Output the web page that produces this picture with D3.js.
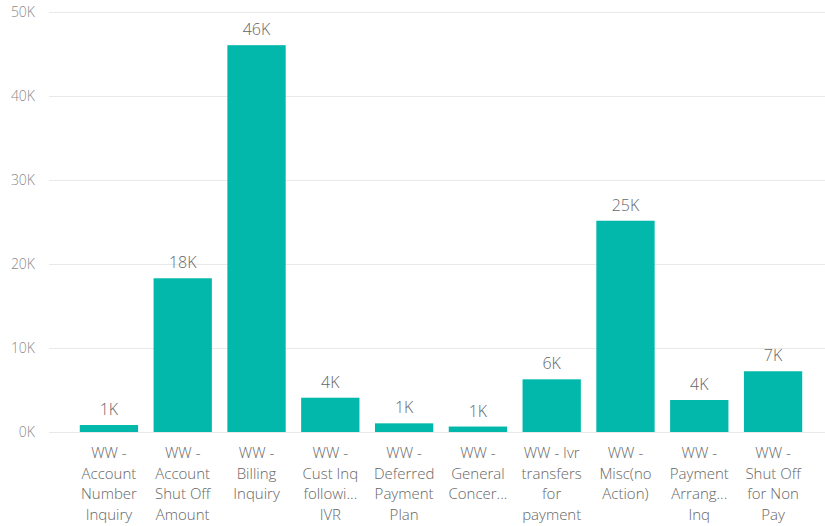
<!DOCTYPE html>
<html>
<meta charset="utf-8">
<style>
  body { margin: 0; background: #fff; }
  svg text { font-family: "Segoe UI", "Open Sans", sans-serif; font-weight: 300; }
  .grid line { stroke: #e9e9e9; stroke-width: 1; }
  .ytick { font-size: 14px; fill: #8a8a8a; }
  .xlab { font-size: 15px; fill: #666; }
  .vlab { font-size: 16px; fill: #666; }
</style>
<body>
<script src="https://cdn.jsdelivr.net/npm/d3@7"></script>
<script>

var categories = ["WW - Account Number Inquiry", "WW - Account Shut Off Amount", "WW - Billing Inquiry",
  "WW - Cust Inq following IVR", "WW - Deferred Payment Plan", "WW - General Concern",
  "WW - Ivr transfers for payment", "WW - Misc(no Action)", "WW - Payment Arrangement Inq",
  "WW - Shut Off for Non Pay"];
var values = [830, 18300, 46050, 4080, 1030, 650, 6270, 25150, 3810, 7230];
// wrapped tick labels as shown on the axis
var tickLines = [
  ["WW -", "Account", "Number", "Inquiry"],
  ["WW -", "Account", "Shut Off", "Amount"],
  ["WW -", "Billing", "Inquiry"],
  ["WW -", "Cust Inq", "followi...", "IVR"],
  ["WW -", "Deferred", "Payment", "Plan"],
  ["WW -", "General", "Concer..."],
  ["WW - Ivr", "transfers", "for", "payment"],
  ["WW -", "Misc(no", "Action)"],
  ["WW -", "Payment", "Arrang...", "Inq"],
  ["WW -", "Shut Off", "for Non", "Pay"]
];
var yTicks = [0, 10000, 20000, 30000, 40000, 50000];

var width = 825, height = 526;

var svg = d3.select("body").append("svg")
  .attr("width", width)
  .attr("height", height);

var x = d3.scaleBand()
  .domain(categories)
  .range([66.5, 815.5])
  .paddingInner(0.21)
  .paddingOuter(0.18);

var y = d3.scaleLinear()
  .domain([0, 50000])
  .range([432, 12]);

var fmtK = function (d) { return Math.round(d / 1000) + "K"; };

// gridlines
svg.append("g").attr("class", "grid")
  .selectAll("line")
  .data(yTicks)
  .enter().append("line")
    .attr("x1", 49).attr("x2", width)
    .attr("y1", function (d) { return Math.round(y(d)) + 0.5; })
    .attr("y2", function (d) { return Math.round(y(d)) + 0.5; });

svg.append("g")
  .selectAll("text")
  .data(yTicks)
  .enter().append("text")
    .attr("class", "ytick")
    .attr("text-anchor", "end")
    .attr("x", 35)
    .attr("y", function (d) { return y(d) + 5; })
    .text(fmtK);

// bars
svg.append("g")
  .selectAll("rect")
  .data(values)
  .enter().append("rect")
    .attr("x", function (d, i) { return x(categories[i]); })
    .attr("y", function (d) { return y(d); })
    .attr("width", x.bandwidth())
    .attr("height", function (d) { return y(0) - y(d); })
    .attr("fill", "#01B8AA");

// data labels
svg.append("g")
  .selectAll("text")
  .data(values)
  .enter().append("text")
    .attr("class", "vlab")
    .attr("text-anchor", "middle")
    .attr("x", function (d, i) { return x(categories[i]) + x.bandwidth() / 2; })
    .attr("y", function (d) { return y(d) - 10; })
    .text(fmtK);

// x axis labels
var xl = svg.append("g")
  .selectAll("text")
  .data(tickLines)
  .enter().append("text")
    .attr("class", "xlab")
    .attr("text-anchor", "middle")
    .attr("x", function (d, i) { return x(categories[i]) + x.bandwidth() / 2; })
    .attr("y", 458);

xl.selectAll("tspan")
  .data(function (d) { return d; })
  .enter().append("tspan")
    .attr("x", function () { return d3.select(this.parentNode).attr("x"); })
    .attr("dy", function (d, i) { return i === 0 ? 0 : 20.5; })
    .text(function (d) { return d; });

</script>
</body>
</html>
